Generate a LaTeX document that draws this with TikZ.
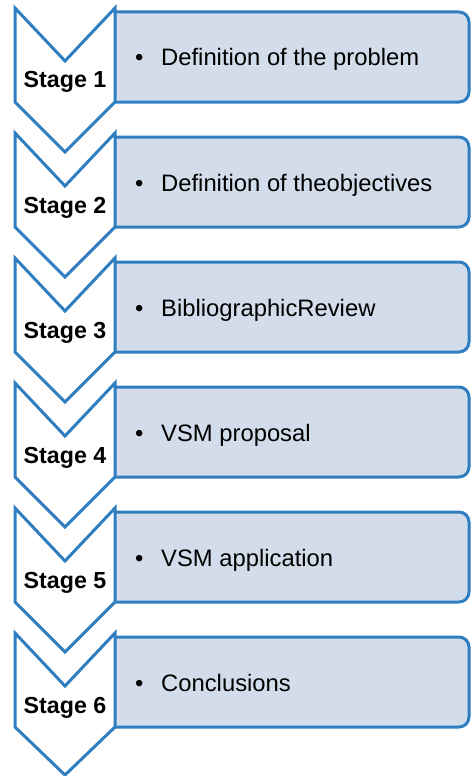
\documentclass[tikz,border=0pt]{standalone}
\usepackage{fontspec}
\setmainfont{Liberation Sans}
\definecolor{stageblue}{RGB}{46,126,192}
\definecolor{stagefill}{RGB}{211,220,234}

\begin{document}
\begin{tikzpicture}[x=1pt,y=-1pt,line join=miter,
		  chevron/.style={draw=stageblue,line width=3pt},
		  itembox/.style={draw=stageblue,fill=stagefill,line width=3pt,rounded corners=10pt},
		  stagelabel/.style={inner sep=0pt,anchor=base,font=\fontsize{23.2}{27}\selectfont\bfseries},
		  itemlabel/.style={inner sep=0pt,anchor=base west,font=\fontsize{23.8}{28}\selectfont}]
		  \useasboundingbox (0,0) rectangle (471,776);
		  % stage 1
		  \draw[itembox] (115,12) -- (469,12) -- (469,102) -- (115,102);
		  \draw[chevron] (15,8) -- (65,61) -- (115,8) -- (115,102) -- (65,152) -- (15,102) -- cycle;
		  \node[stagelabel] (stage1) at (65,88) {Stage 1};
		  \node[itemlabel] (item1) at (135,66) {\makebox[26pt][l]{\textbullet}Definition of the problem};
		  % stage 2
		  \draw[itembox] (115,137) -- (469,137) -- (469,227) -- (115,227);
		  \draw[chevron] (15,133) -- (65,186) -- (115,133) -- (115,227) -- (65,277) -- (15,227) -- cycle;
		  \node[stagelabel] (stage2) at (65,213) {Stage 2};
		  \node[itemlabel] (item2) at (135,191) {\makebox[26pt][l]{\textbullet}Definition of theobjectives};
		  % stage 3
		  \draw[itembox] (115,262) -- (469,262) -- (469,352) -- (115,352);
		  \draw[chevron] (15,258) -- (65,311) -- (115,258) -- (115,352) -- (65,402) -- (15,352) -- cycle;
		  \node[stagelabel] (stage3) at (65,338) {Stage 3};
		  \node[itemlabel] (item3) at (135,316) {\makebox[26pt][l]{\textbullet}BibliographicReview};
		  % stage 4
		  \draw[itembox] (115,387) -- (469,387) -- (469,477) -- (115,477);
		  \draw[chevron] (15,383) -- (65,436) -- (115,383) -- (115,477) -- (65,527) -- (15,477) -- cycle;
		  \node[stagelabel] (stage4) at (65,463) {Stage 4};
		  \node[itemlabel] (item4) at (135,441) {\makebox[26pt][l]{\textbullet}VSM proposal};
		  % stage 5
		  \draw[itembox] (115,512) -- (469,512) -- (469,602) -- (115,602);
		  \draw[chevron] (15,508) -- (65,561) -- (115,508) -- (115,602) -- (65,652) -- (15,602) -- cycle;
		  \node[stagelabel] (stage5) at (65,588) {Stage 5};
		  \node[itemlabel] (item5) at (135,566) {\makebox[26pt][l]{\textbullet}VSM application};
		  % stage 6
		  \draw[itembox] (115,637) -- (469,637) -- (469,727) -- (115,727);
		  \draw[chevron] (15,633) -- (65,686) -- (115,633) -- (115,727) -- (65,775) -- (15,727) -- cycle;
		  \node[stagelabel] (stage6) at (65,713) {Stage 6};
		  \node[itemlabel] (item6) at (135,691) {\makebox[26pt][l]{\textbullet}Conclusions};
		\end{tikzpicture}
\end{document}
